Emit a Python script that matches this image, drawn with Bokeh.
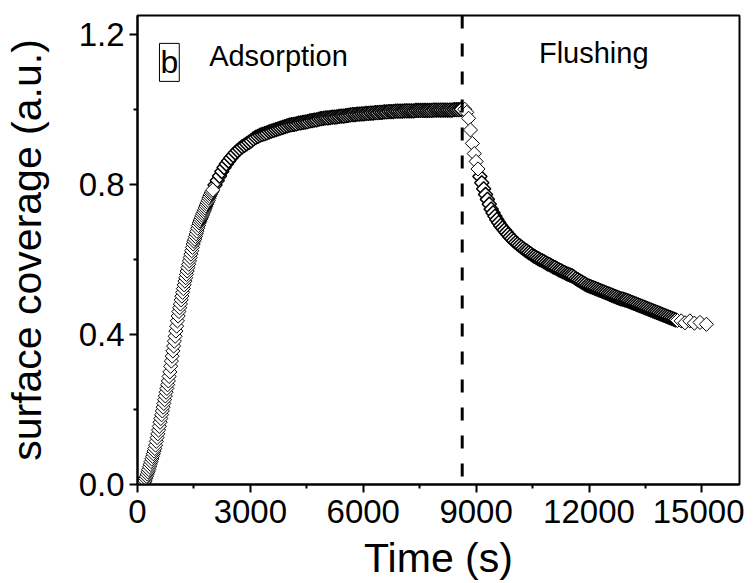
import numpy as np
from bokeh.plotting import figure
from bokeh.models import FixedTicker, NumeralTickFormatter, Span, Label, ColumnDataSource
from bokeh.embed import file_html
from bokeh.resources import INLINE

FONT = "Liberation Sans"

# ---- data ----
# adsorption, fast part: sampled every 20 s from 0 to 2000 s
ads_fast_time = list(range(0, 2001, 20))
ads_fast_cov = [
    0.000, 0.001, 0.000, 0.001, 0.000, 0.001, 0.001, 0.002, 0.003, 0.006,
    0.010, 0.016, 0.022, 0.028, 0.034, 0.040, 0.047, 0.054, 0.061, 0.068,
    0.075, 0.082, 0.089, 0.096, 0.105, 0.115, 0.125, 0.135, 0.145, 0.155,
    0.166, 0.176, 0.186, 0.196, 0.206, 0.216, 0.226, 0.236, 0.246, 0.256,
    0.266, 0.276, 0.288, 0.300, 0.315, 0.329, 0.342, 0.356, 0.369, 0.382,
    0.395, 0.409, 0.422, 0.436, 0.449, 0.461, 0.471, 0.481, 0.492, 0.502,
    0.512, 0.522, 0.532, 0.542, 0.551, 0.560, 0.569, 0.578, 0.587, 0.596,
    0.605, 0.614, 0.623, 0.632, 0.641, 0.648, 0.654, 0.661, 0.668, 0.675,
    0.683, 0.690, 0.697, 0.702, 0.707, 0.712, 0.717, 0.722, 0.727, 0.732,
    0.737, 0.742, 0.747, 0.752, 0.757, 0.763, 0.768, 0.773, 0.777, 0.781,
    0.785,
]
# adsorption, slow part: every 60 s from 2060 to 8600 s
ads_slow_time = list(range(2060, 8601, 60))
ads_slow_cov = [
    0.798, 0.810, 0.822, 0.834, 0.845, 0.854, 0.862, 0.870, 0.877, 0.884,
    0.890, 0.895, 0.900, 0.904, 0.908, 0.912, 0.916, 0.921, 0.925, 0.928,
    0.931, 0.933, 0.935, 0.937, 0.940, 0.942, 0.944, 0.946, 0.948, 0.950,
    0.952, 0.954, 0.956, 0.958, 0.959, 0.960, 0.961, 0.963, 0.964, 0.965,
    0.966, 0.967, 0.969, 0.970, 0.971, 0.972, 0.974, 0.975, 0.976, 0.977,
    0.977, 0.978, 0.979, 0.979, 0.980, 0.981, 0.982, 0.982, 0.983, 0.984,
    0.985, 0.986, 0.986, 0.987, 0.987, 0.988, 0.988, 0.989, 0.989, 0.990,
    0.990, 0.991, 0.991, 0.992, 0.992, 0.993, 0.993, 0.994, 0.994, 0.994,
    0.995, 0.995, 0.995, 0.995, 0.996, 0.996, 0.996, 0.996, 0.996, 0.997,
    0.997, 0.997, 0.997, 0.997, 0.997, 0.997, 0.997, 0.998, 0.998, 0.998,
    0.998, 0.998, 0.998, 0.998, 0.998, 0.998, 0.999, 0.999, 0.999, 1.000,
]
# flushing: every 50 s from 8700 to 14300 s
flush_time = list(range(8700, 14301, 50))
flush_cov = [
    1.000, 0.992, 0.976, 0.945, 0.909, 0.882, 0.861, 0.841, 0.821, 0.804,
    0.788, 0.773, 0.760, 0.747, 0.734, 0.724, 0.715, 0.706, 0.698, 0.690,
    0.684, 0.678, 0.672, 0.666, 0.660, 0.655, 0.650, 0.645, 0.641, 0.637,
    0.633, 0.629, 0.625, 0.622, 0.618, 0.615, 0.611, 0.608, 0.605, 0.602,
    0.599, 0.597, 0.594, 0.591, 0.588, 0.586, 0.583, 0.580, 0.578, 0.575,
    0.572, 0.570, 0.567, 0.565, 0.562, 0.560, 0.558, 0.556, 0.553, 0.549,
    0.546, 0.543, 0.540, 0.537, 0.534, 0.531, 0.529, 0.527, 0.525, 0.523,
    0.521, 0.519, 0.517, 0.515, 0.513, 0.511, 0.509, 0.507, 0.505, 0.503,
    0.501, 0.499, 0.497, 0.495, 0.494, 0.492, 0.491, 0.489, 0.487, 0.485,
    0.483, 0.481, 0.479, 0.477, 0.475, 0.473, 0.471, 0.469, 0.467, 0.465,
    0.463, 0.461, 0.459, 0.457, 0.455, 0.453, 0.451, 0.449, 0.447, 0.445,
    0.443, 0.441, 0.439,
]
tail_time = [14350, 14450, 14550, 14680, 14800, 14950, 15120]
tail_cov = [0.437, 0.436, 0.431, 0.436, 0.430, 0.432, 0.427]

switch_time = 8630  # adsorption -> flushing

x_major = [0, 3000, 6000, 9000, 12000, 15000]
x_minor = [1500, 4500, 7500, 10500, 13500]
y_major = [0.0, 0.4, 0.8, 1.2]
y_minor = [0.2, 0.6, 1.0]

# sparse parts (drawn with thin outlines) and dense parts
n_flush_sparse = 8
sparse_src = ColumnDataSource(dict(
    t=ads_fast_time + flush_time[:n_flush_sparse] + tail_time,
    v=ads_fast_cov + flush_cov[:n_flush_sparse] + tail_cov))
dense_src = ColumnDataSource(dict(
    t=ads_slow_time + flush_time[n_flush_sparse:],
    v=ads_slow_cov + flush_cov[n_flush_sparse:]))

p = figure(frame_width=602, frame_height=469,
           x_range=(0, 16000), y_range=(0, 1.25),
           output_backend="svg", toolbar_location=None,
           min_border_left=137, min_border_top=15, min_border_right=5,
           min_border_bottom=0)
p.background_fill_color = "white"
p.border_fill_color = "white"
p.grid.visible = False
p.outline_line_color = "black"
p.outline_line_width = 2
p.outline_line_alpha = 1.0

for ax in (p.xaxis[0], p.yaxis[0]):
    ax.axis_line_width = 2
    ax.major_tick_line_width = 2
    ax.minor_tick_line_width = 2
    ax.major_tick_out = 8
    ax.major_tick_in = 0
    ax.minor_tick_out = 4
    ax.minor_tick_in = 0
    ax.major_label_text_font = FONT
    ax.major_label_text_font_size = "33px"
    ax.major_label_text_color = "black"
    ax.axis_label_text_font = FONT
    ax.axis_label_text_font_size = "41px"
    ax.axis_label_text_font_style = "normal"
    ax.axis_label_text_color = "black"

p.xaxis[0].ticker = FixedTicker(ticks=x_major, minor_ticks=x_minor)
p.yaxis[0].ticker = FixedTicker(ticks=y_major, minor_ticks=y_minor)
p.yaxis[0].formatter = NumeralTickFormatter(format="0.0")
p.xaxis[0].axis_label = "Time (s)"
p.yaxis[0].axis_label = "surface coverage (a.u.)"
p.xaxis[0].major_label_standoff = 7
p.xaxis[0].axis_label_standoff = 9
p.yaxis[0].major_label_standoff = 5
p.yaxis[0].axis_label_standoff = 26

p.scatter(x="t", y="v", source=dense_src, marker="square", angle=np.pi / 4,
          size=10, fill_color="white", line_color="black", line_width=1.5)
p.scatter(x="t", y="v", source=sparse_src, marker="square", angle=np.pi / 4,
          size=10, fill_color="white", line_color="black", line_width=1.0)

p.add_layout(Span(location=switch_time, dimension="height", line_color="black",
                  line_width=3, line_dash="13 15"))

p.add_layout(Label(x=1904, y=1.143, text="Adsorption", text_font=FONT,
                   text_font_size="29px", text_color="black",
                   text_align="left", text_baseline="alphabetic"))
p.add_layout(Label(x=10669, y=1.150, text="Flushing", text_font=FONT,
                   text_font_size="29px", text_color="black",
                   text_align="left", text_baseline="alphabetic"))
p.add_layout(Label(x=584, y=1.125, text="b", text_font=FONT,
                   text_font_size="32px", text_color="black",
                   text_align="left", text_baseline="alphabetic",
                   border_line_color="black", border_line_width=1,
                   padding=1))

open("out.html", "w").write(file_html(p, INLINE))
